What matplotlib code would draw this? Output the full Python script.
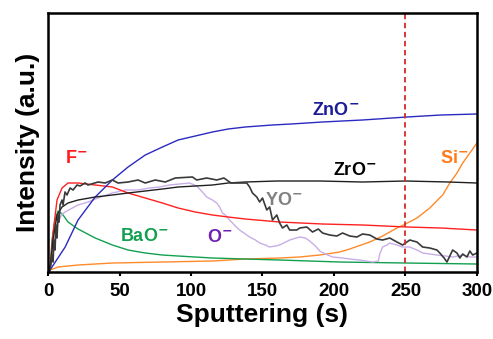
import matplotlib
matplotlib.use('Agg')
import matplotlib.pyplot as plt

plt.rcParams['font.family'] = ['Liberation Sans', 'DejaVu Sans']
plt.rcParams['font.weight'] = 'bold'

# sputtering time (s) and intensity (a.u.) for each ion
t_zno = [0, 1.4, 6, 12, 21, 33, 45, 56, 68, 80, 91, 103, 115, 126, 138, 157, 170, 192, 220, 251, 275, 300]
i_zno = [0, 2, 12, 25, 52, 75, 92, 105, 117, 125, 132, 136, 140, 143, 145, 147, 148, 150, 152, 155, 157, 158]

t_f = [0, 1.4, 3.5, 6.3, 9.8, 14, 21, 33, 45, 56, 68, 80, 91, 103, 115, 126, 138, 162, 192, 220, 251, 275, 300]
i_f = [0, 2, 39, 72, 84, 89, 89, 87, 85, 79, 74, 69, 64, 60, 57, 55, 53, 50, 48, 47, 45, 44, 42]

t_bao = [0, 1.4, 2.8, 4.9, 7, 10, 14, 21, 33, 45, 56, 68, 80, 91, 103, 115, 138, 162, 204, 250, 300]
i_bao = [0, 2, 32, 52, 61, 58, 50, 43, 34, 27, 22, 19, 17, 16, 15, 14, 13, 12, 10, 9, 8]

t_si = [0, 1.4, 7, 21, 45, 80, 115, 138, 162, 176, 190, 204, 211, 225, 234, 244, 250, 258, 267, 276, 281, 286, 290, 295, 300]
i_si = [0, 2, 5, 7, 9, 10, 11, 13, 14, 15, 17, 20, 23, 30, 36, 44, 48, 54, 64, 77, 89, 99, 109, 119, 129]

t_zro = [0, 1.4, 3.5, 6.3, 9.8, 14, 21, 33, 45, 56, 68, 80, 91, 103, 115, 126, 138, 160, 190, 220, 250, 280, 300]
i_zro = [0, 2, 32, 57, 65, 69, 72, 75, 77, 79, 81, 83, 85, 86, 87, 89, 90, 91, 91, 90, 91, 90, 89]

t_yo = [0, 1.4, 2.8, 3.5, 4.2, 4.9, 5.6, 6.3, 7, 7.7, 8.4, 9.8, 10.5, 11.9, 13.3, 15.4, 17.5, 20.3, 22.4, 25.9,
        28, 35, 40, 45, 49, 56, 63, 68, 75, 82, 89, 101, 104, 111, 118, 123, 128, 139, 141, 143, 146, 148,
        150, 153, 155, 157, 160, 162, 164, 167, 169, 174, 176, 181, 185, 189, 192, 197, 202, 206, 211, 216,
        220, 225, 230, 234, 239, 244, 248, 253, 258, 262, 267, 272, 274, 277, 279, 281, 283, 286, 288, 290,
        293, 295, 297, 300]
i_yo = [0, 2, 17, 10, 32, 22, 47, 34, 57, 50, 67, 72, 67, 80, 77, 84, 82, 87, 86, 89,
        87, 90, 89, 92, 89, 90, 92, 89, 92, 90, 94, 95, 92, 94, 92, 94, 89, 89, 85, 79, 75, 70,
        74, 62, 65, 52, 57, 49, 44, 47, 42, 42, 44, 45, 40, 43, 39, 37, 36, 39, 36, 35,
        38, 37, 33, 32, 34, 30, 27, 32, 30, 25, 24, 22, 19, 14, 10, 16, 22, 19, 14, 18,
        15, 21, 17, 19]

t_o = [0, 1.4, 3.5, 4.9, 6.3, 7, 8.4, 9.8, 12, 17, 21, 28, 35, 45, 54, 63, 71, 78, 85, 92, 99, 104, 108,
       111, 115, 118, 120, 122, 124, 127, 131, 134, 138, 141, 145, 148, 152, 155, 159, 162, 169, 176, 180,
       183, 187, 190, 194, 199, 206, 211, 218, 227, 231, 232, 234, 237, 239, 244, 248, 253, 258, 262, 267,
       272, 278, 283, 290, 295, 300]
i_o = [0, 0, 22, 34, 44, 50, 54, 58, 60, 64, 67, 70, 74, 79, 82, 82, 84, 85, 87, 88, 89, 86, 80,
       75, 72, 69, 65, 59, 57, 52, 46, 42, 38, 35, 32, 29, 27, 25, 26, 27, 32, 35, 34,
       31, 26, 21, 18, 15, 14, 13, 12, 10, 11, 18, 25, 27, 29, 27, 25, 25, 22, 19, 18,
       17, 16, 15, 17, 15, 15]

x_ticks = [0, 50, 100, 150, 200, 250, 300]
t_mark = 250

fig = plt.figure(figsize=(4.93, 3.39), dpi=100)
ax = fig.add_axes([0.0974, 0.1976, 0.8701, 0.7641])

ax.plot(t_si, i_si, color='#ff8a2a', lw=1.0)
ax.plot(t_bao, i_bao, color='#12a050', lw=1.0)
ax.plot(t_o, i_o, color='#c8aee6', lw=1.0)
ax.plot(t_f, i_f, color='#ff2020', lw=1.0)
ax.plot(t_zno, i_zno, color='#2a2ac0', lw=1.0)
ax.plot(t_zro, i_zro, color='#202020', lw=1.0)
ax.plot(t_yo, i_yo, color='#3a3a3a', lw=1.2)
ax.axvline(t_mark, color='#d42a2a', lw=1.3, ls=(0, (3, 2)))

lab = dict(fontsize=13, fontweight='bold', ha='left', va='baseline')
ax.text(184.6, 157, r'ZnO$^{\mathbf{-}}$', color='#1c1c98', **lab)
ax.text(11.9, 109, r'F$^{\mathbf{-}}$', color='#ff1a1a', **lab)
ax.text(199.3, 97, r'ZrO$^{\mathbf{-}}$', color='black', **lab)
ax.text(274, 109, r'Si$^{\mathbf{-}}$', color='#ff7a1a', **lab)
ax.text(151.7, 67, r'YO$^{\mathbf{-}}$', color='#808080', **lab)
ax.text(50.3, 31, r'BaO$^{\mathbf{-}}$', color='#12a050', **lab)
ax.text(111, 30, r'O$^{\mathbf{-}}$', color='#7020b0', **lab)

ax.set_xlim(0, 300)
ax.set_ylim(0, 259)
ax.set_xticks(x_ticks)
ax.set_yticks([])
ax.tick_params(axis='x', direction='out', length=3, width=1.5, labelsize=13.5, pad=5)
for s in ax.spines.values():
    s.set_linewidth(1.8)
ax.set_xlabel('Sputtering (s)', fontsize=19, fontweight='bold', labelpad=2)
ax.set_ylabel('Intensity (a.u.)', fontsize=19, fontweight='bold', labelpad=6)

fig.savefig('out.png', dpi=100)
